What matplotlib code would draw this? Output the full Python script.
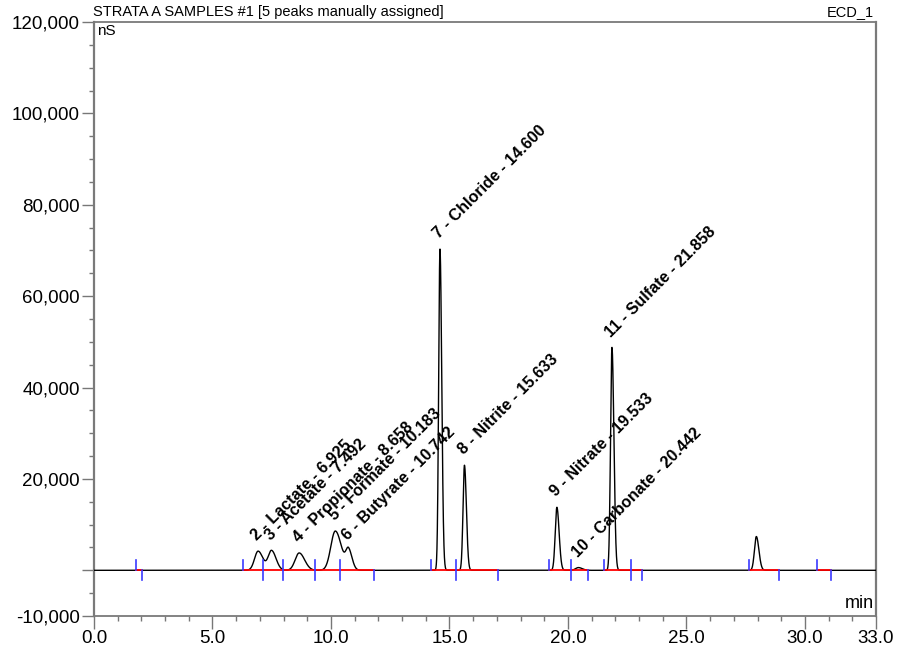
import numpy as np
import matplotlib.pyplot as plt
from matplotlib.ticker import MultipleLocator, FuncFormatter

peak_names = ['2 - Lactate - 6.925', '3 - Acetate - 7.492', '4 - Propionate - 8.658',
              '5 - Formate - 10.183', '6 - Butyrate - 10.742', '7 - Chloride - 14.600',
              '8 - Nitrite - 15.633', '9 - Nitrate - 19.533', '10 - Carbonate - 20.442',
              '11 - Sulfate - 21.858']
peak_times = [6.925, 7.492, 8.658, 10.183, 10.742, 14.600, 15.633, 19.533, 20.442, 21.858, 27.95]
peak_heights = [4200, 4300, 3800, 8600, 4200, 70300, 23000, 13800, 600, 48800, 7400]
peak_sigma = [0.15, 0.14, 0.17, 0.19, 0.11, 0.055, 0.06, 0.07, 0.12, 0.06, 0.08]

# granice całkowania (start, koniec) [min]
integ_start = [1.77, 6.29, 7.12, 7.96, 9.33, 10.39, 14.22, 15.29, 19.20, 20.13, 21.53, 22.66, 27.64, 30.53]
integ_end = [2.03, 7.12, 7.96, 9.33, 10.39, 11.82, 15.29, 17.03, 20.13, 20.86, 22.66, 23.14, 28.90, 31.12]

yticks_major = [-10000, 0, 20000, 40000, 60000, 80000, 100000, 120000]
xticks_major = [0, 5, 10, 15, 20, 25, 30, 33]

# --- sygnał ---
t = np.arange(0, 33.0001, 0.004)
sygnal = np.zeros_like(t)
for t0, h, s in zip(peak_times, peak_heights, peak_sigma):
    s_arr = np.where(t < t0, s, s * 1.35)   # lekki ogon piku
    sygnal += h * np.exp(-0.5 * ((t - t0) / s_arr) ** 2)

fig = plt.figure(figsize=(8.98, 6.55), dpi=100)
ax = fig.add_axes([94 / 898, 1 - 616 / 655, 782 / 898, 594 / 655])

ax.plot(t, sygnal, color='black', lw=1.0, zorder=3)

# linie bazowe (czerwone) i znaczniki (niebieskie)
tick_h = 2200
for a, b in zip(integ_start, integ_end):
    ax.plot([a, b], [0, 0], color='red', lw=1.3, zorder=4)
    ax.plot([a, a], [0, tick_h], color='#3a3aff', lw=1.2, zorder=5)
    ax.plot([b, b], [-tick_h, 0], color='#3a3aff', lw=1.2, zorder=5)

# etykiety pików
for name, t0, h in zip(peak_names, peak_times, peak_heights):
    ax.annotate(name, xy=(t0, h), xytext=(1.0, 5.5), textcoords='offset points',
                rotation=45, rotation_mode='anchor', ha='left', va='bottom',
                fontsize=11.6, fontweight='bold', family='Liberation Sans', zorder=6)

ax.set_xlim(0, 33)
ax.set_ylim(-10000, 120000)

ax.set_xticks(xticks_major)
ax.xaxis.set_minor_locator(MultipleLocator(1))
ax.xaxis.set_major_formatter(FuncFormatter(lambda v, p: f'{v:.1f}'))
ax.set_yticks(yticks_major)
ax.yaxis.set_minor_locator(MultipleLocator(5000))
ax.yaxis.set_major_formatter(FuncFormatter(lambda v, p: '' if v == 0 else f'{v:,.0f}'))

ax.tick_params(which='major', direction='out', length=9, width=1.0, color='#777777',
               labelsize=13.5, pad=1)
ax.tick_params(which='minor', direction='out', length=3.6, width=1.0, color='#777777')
for lab in ax.get_xticklabels() + ax.get_yticklabels():
    lab.set_family('Liberation Sans')

for side in ['left', 'right', 'top', 'bottom']:
    ax.spines[side].set_color('#7a7a7a')
    ax.spines[side].set_linewidth(1.3)
ax.spines['left'].set_linewidth(1.6)
ax.spines['right'].set_linewidth(1.6)

# opisy
fig.text(93 / 898, 1 - 12 / 655, 'STRATA A SAMPLES #1 [5 peaks manually assigned]',
         ha='left', va='center', fontsize=10.5, family='Liberation Sans')
fig.text(874 / 898, 1 - 12 / 655, 'ECD_1', ha='right', va='center', fontsize=10.5,
         family='Liberation Sans')
ax.text(0.004, 0.997, 'nS', transform=ax.transAxes, ha='left', va='top', fontsize=11,
        family='Liberation Sans')
ax.text(0.997, 0.006, 'min', transform=ax.transAxes, ha='right', va='bottom', fontsize=13,
        family='Liberation Sans')

plt.savefig('out.png', dpi=100)
